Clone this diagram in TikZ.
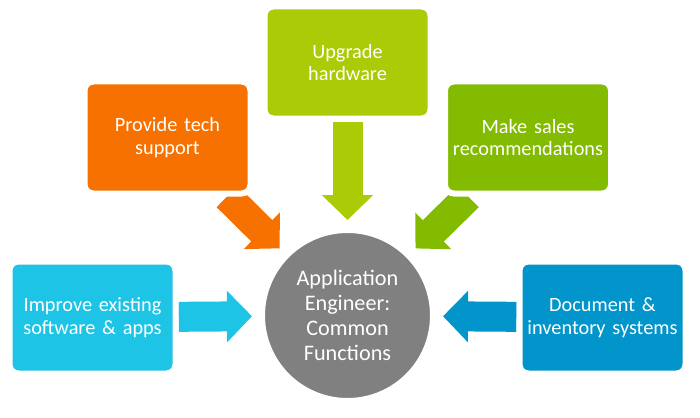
\documentclass[tikz,border=0pt]{standalone}
\usepackage{fontspec}
\setmainfont{Carlito}
\usetikzlibrary{arrows.meta,shadows}
\definecolor{cCyan}{HTML}{1EC4E6}
\definecolor{cOrange}{HTML}{F77100}
\definecolor{cLime}{HTML}{AACB05}
\definecolor{cGreen}{HTML}{82BB00}
\definecolor{cBlue}{HTML}{0195CB}
\definecolor{cGray}{HTML}{808080}
\pgfdeclarelayer{background}
\pgfsetlayers{background,main}
\tikzset{
  box/.style={rectangle, rounded corners=9pt, draw=white, line width=6pt,
    minimum width=166pt, minimum height=112pt, text width=156pt, align=center,
    text=white, font=\fontsize{20.3}{22.5}\selectfont,
    drop shadow={shadow xshift=1pt, shadow yshift=-2pt, opacity=0.22}},
  hub/.style={circle, draw=white, line width=6pt, fill=cGray, minimum size=171pt,
    inner sep=0pt, align=center, text=white, font=\fontsize{22.2}{25}\selectfont,
    drop shadow={shadow xshift=1pt, shadow yshift=-2.5pt, opacity=0.22}},
  blockarrow/.style={line width=30pt, draw=#1,
    -{Triangle[length=25pt,width=50pt]}, shorten >=7pt}
}
\begin{document}
\begin{tikzpicture}[x=1pt,y=-1pt]
\useasboundingbox (0,0) rectangle (700,417);
\node[hub] (c) at (347.5,315.5) {Application\\Engineer:\\Common\\Functions};
\node[box, fill=cCyan] (l) at (92.5,317.5) {Improve existing\\software \& apps};
\node[box, fill=cOrange] (o) at (167.5,137.5) {Provide tech\\support};
\node[box, fill=cLime] (t) at (347.5,62.5) {Upgrade\\hardware};
\node[box, fill=cGreen] (g) at (528,137.5) {Make sales\\recommendations};
\node[box, fill=cBlue] (r) at (602.5,317.5) {Document \&\\inventory systems};
\begin{pgfonlayer}{background}
\draw[blockarrow=cCyan] (l) -- (c);
\draw[blockarrow=cOrange] (o) -- (c);
\draw[blockarrow=cLime] (t) -- (c);
\draw[blockarrow=cGreen] (g) -- (c);
\draw[blockarrow=cBlue] (r) -- (c);
\end{pgfonlayer}
\end{tikzpicture}
\end{document}
